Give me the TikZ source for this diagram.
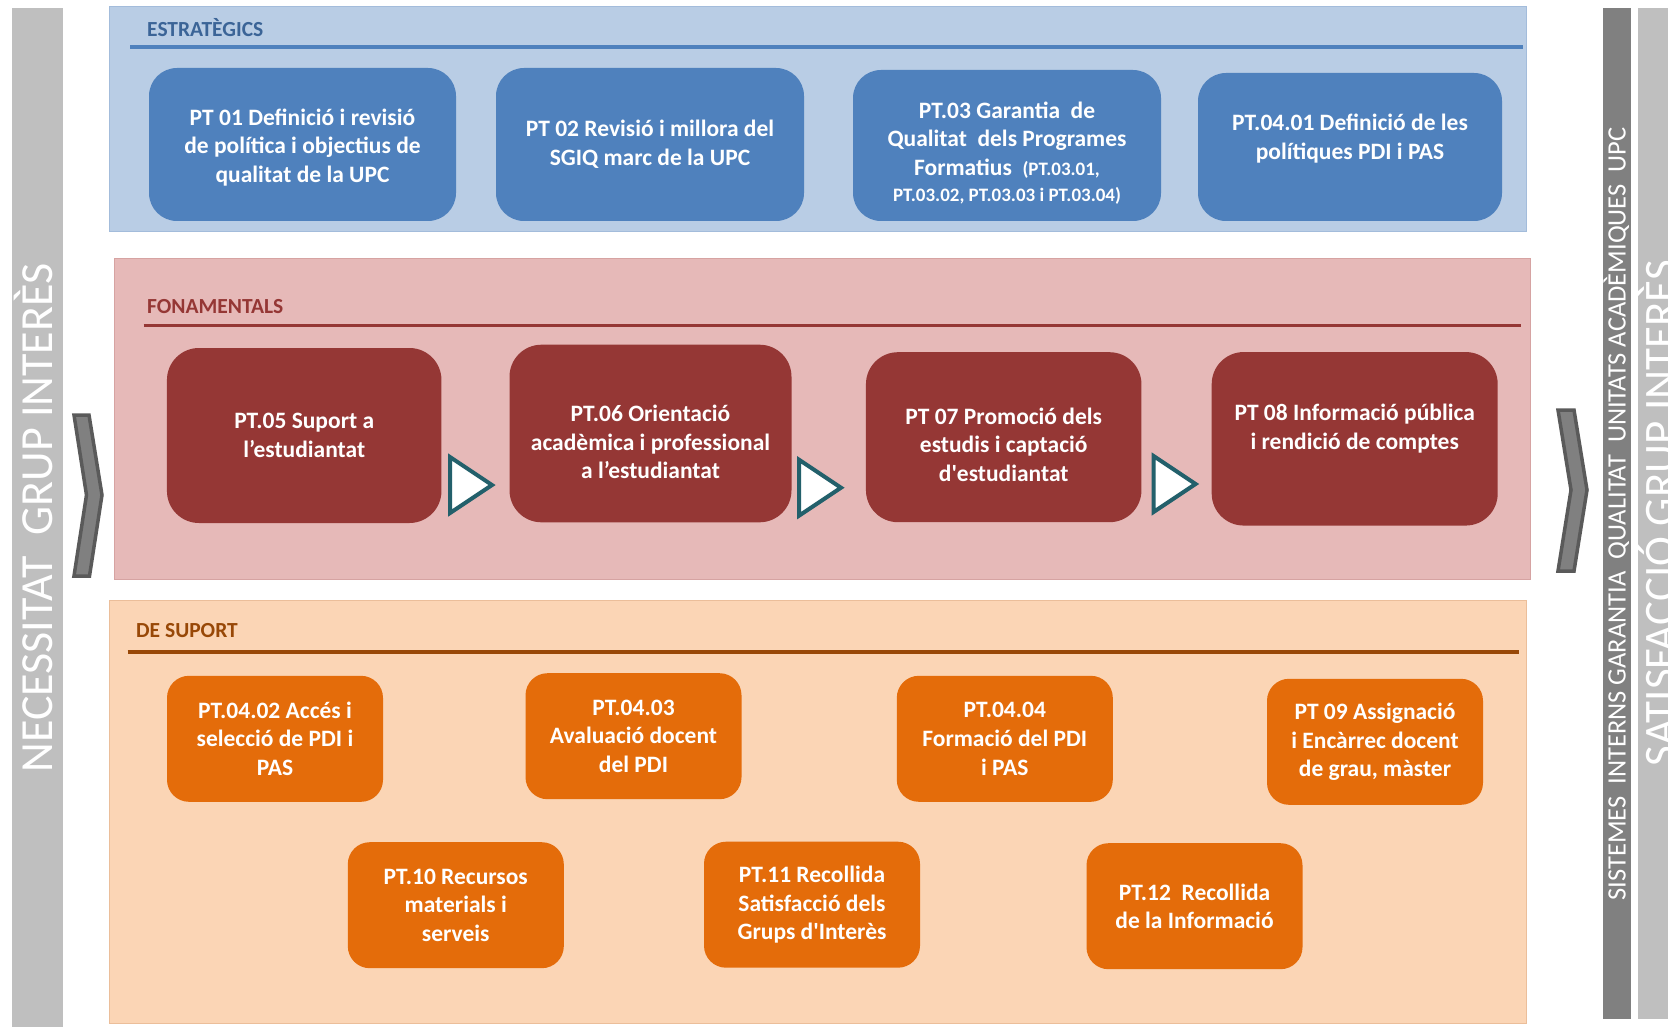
\documentclass[tikz,border=0pt]{standalone}
\usepackage{fontspec}
\setmainfont{Carlito}
\usetikzlibrary{shapes.geometric}

\definecolor{estpanel}{HTML}{B9CDE5}
\definecolor{estline}{HTML}{A3BCDB}
\definecolor{estblue}{HTML}{4F81BD}
\definecolor{esttitle}{HTML}{3B6497}
\definecolor{fonpanel}{HTML}{E6B9B8}
\definecolor{fonline}{HTML}{D6A3A2}
\definecolor{fonred}{HTML}{953735}
\definecolor{suppanel}{HTML}{FBD5B5}
\definecolor{supline}{HTML}{EBBE9A}
\definecolor{suporange}{HTML}{E46C0A}
\definecolor{suptitle}{HTML}{984807}
\definecolor{teal}{HTML}{23606B}
\definecolor{barlight}{HTML}{BFBFBF}
\definecolor{bardark}{HTML}{808080}
\definecolor{chevline}{HTML}{5A5A5A}

\begin{document}
\begin{tikzpicture}[x=1pt, y=-1pt,
    boxtext/.style={text=white, align=center, inner sep=0pt,
        font=\bfseries\fontsize{23.5}{28.7}\selectfont},
    ptbox/.style={boxtext},
    estbox/.style={ptbox, fill=estblue, rounded corners=28pt},
    fonbox/.style={ptbox, fill=fonred, rounded corners=32pt},
    supbox/.style={ptbox, fill=suporange, rounded corners=22pt,
        minimum width=216pt, minimum height=126pt},
    paneltitle/.style={anchor=west, inner sep=0pt,
        font=\bfseries\fontsize{21.5}{25}\selectfont},
    bartext/.style={rotate=90, anchor=base, text=white, inner sep=0pt},
    flowtri/.style={isosceles triangle, isosceles triangle stretches,
        draw=teal, fill=white, line width=4pt, inner sep=0pt,
        minimum width=56pt, minimum height=42pt},
    chevron/.style={fill=bardark, draw=chevline, line width=3.5pt}]

    \useasboundingbox (0,0) rectangle (1668,1027);

    % side bars
    \fill[barlight] (12,8.5) rectangle (63,1030);
    \fill[bardark] (1603,8.5) rectangle (1631,1019);
    \fill[barlight] (1638,8.5) rectangle (1670,1019);
    \node[bartext, font=\fontsize{46}{50}\selectfont] (necessitat) at (52,518) {NECESSITAT~~GRUP INTERÈS};
    \node[bartext, font=\fontsize{26.5}{30}\selectfont] (sistemes) at (1625.5,514) {SISTEMES~~INTERNS GARANTIA~~QUALITAT~~UNITATS ACADÈMIQUES~~UPC};
    \node[bartext, font=\fontsize{45}{50}\selectfont] (satisfaccio) at (1675,513) {SATISFACCIÓ GRUP INTERÈS};

    % chevrons
    \draw[chevron] (74,415) -- (89,415) -- (102,495) -- (89.5,576) -- (74,576) -- (86.5,495) -- cycle;
    \draw[chevron] (1558,410) -- (1574,410) -- (1587,490) -- (1574,571) -- (1558,571) -- (1571,490) -- cycle;

    \begin{scope}
        \draw[estline, fill=estpanel] (109.6,6.4) rectangle (1526.6,230.8); % panel
        \node[paneltitle, text=esttitle] (esttit) at (147,28) {ESTRATÈGICS}; % panel name
        \draw[estblue, line width=3.5pt] (130,47) -- (1523,47);

        \node[estbox, minimum width=307pt, minimum height=153pt,
            label={[boxtext, yshift=-3pt]center:{PT 01 Definició i revisió\\de política i objectius de\\qualitat de la UPC}}] (pt01) at (302.5,144.5) {};
        \node[estbox, minimum width=308pt, minimum height=153pt] (pt02) at (650,144.5)
            {PT 02 Revisió i millora del\\SGIQ marc de la UPC};
        \node[estbox, minimum width=308pt, minimum height=151pt,
            label={[boxtext, yshift=-7.5pt]center:{PT.03 Garantia~ de\\Qualitat~ dels Programes\\Formatius~ {\fontsize{19}{25}\selectfont (PT.03.01,}\\[-3pt]
             {\fontsize{19}{25}\selectfont PT.03.02, PT.03.03 i PT.03.04)}}}] (pt03) at (1007,145.5) {};
        \node[estbox, minimum width=304pt, minimum height=148pt,
            label={[boxtext, yshift=8.5pt]center:{PT.04.01 Definició de les\\polítiques PDI i PAS}}] (pt0401) at (1350,147) {};
    \end{scope}

    \begin{scope}
        \draw[fonline, fill=fonpanel] (113.8,258.5) rectangle (1529.8,578.7); % panel
        \node[paneltitle, text=fonred] (fontit) at (147,307) {FONAMENTALS}; % panel name
        \draw[fonred, line width=3.5pt] (143.6,325.5) -- (1521,325.5);

        \node[fonbox, minimum width=274.5pt, minimum height=175pt] (pt05) at (304.2,435.5)
            {PT.05 Suport a\\l’estudiantat};
        \node[fonbox, minimum width=282pt, minimum height=177.6pt,
            label={[boxtext, yshift=-8.5pt]center:{PT.06 Orientació\\acadèmica i professional\\a l’estudiantat}}] (pt06) at (650.5,433.5) {};
        \node[fonbox, minimum width=275.5pt, minimum height=170pt,
            label={[boxtext, yshift=-7.5pt]center:{PT 07 Promoció dels\\estudis i captació\\d\textquotesingle estudiantat}}] (pt07) at (1003.7,437.2) {};
        \node[fonbox, minimum width=286pt, minimum height=173.5pt,
            label={[boxtext, yshift=10pt]center:{PT 08 Informació pública\\i rendició de comptes}}] (pt08) at (1354.7,438.8) {};

        % flow
        \node[flowtri] (tri1) at (465,485) {};
        \node[flowtri] (tri2) at (814,487.7) {};
        \node[flowtri] (tri3) at (1168.5,484) {};
    \end{scope}

    \begin{scope}
        \draw[supline, fill=suppanel] (109.6,600) rectangle (1526.6,1022.7); % panel
        \node[paneltitle, text=suptitle] (suptit) at (136,631) {DE SUPORT}; % panel name
        \draw[suptitle, line width=3.5pt] (127.7,652) -- (1519,652);

        \node[supbox] (pt0402) at (275,738.8) {PT.04.02 Accés i\\selecció de PDI i\\PAS};
        \node[supbox] (pt0403) at (633.5,736.2) {PT.04.03\\Avaluació docent\\del PDI};
        \node[supbox] (pt0404) at (1004.8,738.8) {PT.04.04\\Formació del PDI\\i PAS};
        \node[supbox] (pt09) at (1375,741.8) {PT 09 Assignació\\i Encàrrec docent\\de grau, màster};
        \node[supbox] (pt10) at (455.8,905.2) {PT.10 Recursos\\materials i\\serveis};
        \node[supbox] (pt11) at (812,904.7) {PT.11 Recollida\\Satisfacció dels\\Grups d\textquotesingle Interès};
        \node[supbox] (pt12) at (1194.5,906.2) {PT.12~ Recollida\\de la Informació};
    \end{scope}

\end{tikzpicture}
\end{document}
